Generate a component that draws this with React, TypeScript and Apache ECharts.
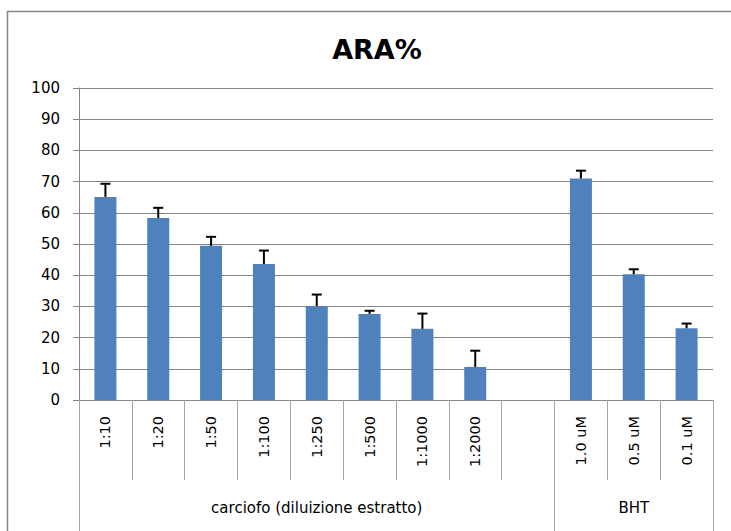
import React, { useEffect, useRef } from "react";
import * as echarts from "echarts";

const title = "ARA%";
const categories = ["1:10", "1:20", "1:50", "1:100", "1:250", "1:500", "1:1000", "1:2000", "", "1.0 uM", "0.5 uM", "0.1 uM"];
const values: (number | null)[] = [65.1, 58.3, 49.4, 43.6, 30.1, 27.6, 22.8, 10.6, null, 71.0, 40.3, 23.0];
const errors: (number | null)[] = [4.2, 3.3, 2.9, 4.3, 3.7, 1.0, 4.9, 5.2, null, 2.5, 1.6, 1.5];
const groupNames = ["carciofo (diluizione estratto)", "BHT"];
const groupBounds = [0, 9, 12];
const groupCenters = [4.5, 10.5];

const FONT = "DejaVu Sans";

export default function App() {
  const ref = useRef<HTMLDivElement>(null);
  useEffect(() => {
    if (!ref.current) return;
    const chart = echarts.init(ref.current, undefined, { renderer: "svg" });
    const errData = categories
      .map((_, i) => (values[i] == null ? null : [i, values[i], errors[i]]))
      .filter((d) => d != null);
    chart.setOption({
      animation: false,
      backgroundColor: "#ffffff",
      title: {
        text: title,
        left: 372,
        top: 31,
        textAlign: "center",
        textStyle: { fontFamily: FONT, fontSize: 27, fontWeight: "bold", color: "#000" },
      },
      graphic: [
        {
          type: "rect",
          shape: { x: 7.5, y: 11.5, width: 760, height: 560 },
          style: { fill: "none", stroke: "#868686", lineWidth: 1.5 },
          z: -10,
        },
      ],
      grid: { left: 79, right: 18, top: 88, bottom: 131, containLabel: false, outerBoundsMode: "none" },
      xAxis: [
        {
          type: "category",
          data: categories,
          position: "bottom",
          axisLine: { show: true, lineStyle: { color: "#868686", width: 1 } },
          axisTick: { show: true, interval: 0, length: 80, lineStyle: { color: "#A6A6A6", width: 1 } },
          axisLabel: {
            interval: 0,
            rotate: 90,
            margin: 16,
            fontFamily: FONT,
            fontSize: 14.5,
            color: "#000",
          },
          splitLine: { show: false },
        },
        {
          type: "value",
          min: 0,
          max: 12,
          position: "bottom",
          axisLine: { show: false },
          splitLine: { show: false },
          axisTick: {
            show: true,
            customValues: groupBounds,
            length: 140,
            lineStyle: { color: "#A6A6A6", width: 1 },
          },
          axisLabel: {
            show: true,
            customValues: groupCenters,
            margin: 100,
            fontFamily: FONT,
            fontSize: 15,
            color: "#000",
            formatter: (v: number) => {
              const idx = groupCenters.indexOf(v);
              return idx >= 0 ? groupNames[idx] : "";
            },
          },
        },
      ],
      yAxis: {
        type: "value",
        min: 0,
        max: 100,
        interval: 10,
        axisLine: { show: true, lineStyle: { color: "#868686", width: 1 } },
        axisTick: { show: true, length: 6, lineStyle: { color: "#868686" } },
        axisLabel: { margin: 19, fontFamily: FONT, fontSize: 15, color: "#000" },
        splitLine: { show: true, lineStyle: { color: "#868686", width: 1 } },
      },
      series: [
        {
          type: "bar",
          xAxisIndex: 0,
          data: values,
          barWidth: 22,
          itemStyle: { color: "#4F81BD" },
        },
        {
          type: "custom",
          xAxisIndex: 0,
          data: errData,
          z: 5,
          renderItem: (params: any, api: any) => {
            const x = api.value(0);
            const v = api.value(1);
            const e = api.value(2);
            const base = api.coord([x, v]);
            const top = api.coord([x, v + e]);
            const half = 5;
            return {
              type: "group",
              children: [
                {
                  type: "line",
                  shape: { x1: base[0], y1: base[1], x2: top[0], y2: top[1] },
                  style: { stroke: "#000", lineWidth: 2 },
                },
                {
                  type: "line",
                  shape: { x1: top[0] - half, y1: top[1], x2: top[0] + half, y2: top[1] },
                  style: { stroke: "#000", lineWidth: 2 },
                },
              ],
            };
          },
        },
      ],
    });
    return () => chart.dispose();
  }, []);
  return <div ref={ref} style={{ position: "fixed", left: 0, top: 0, width: 731, height: 531 }} />;
}
